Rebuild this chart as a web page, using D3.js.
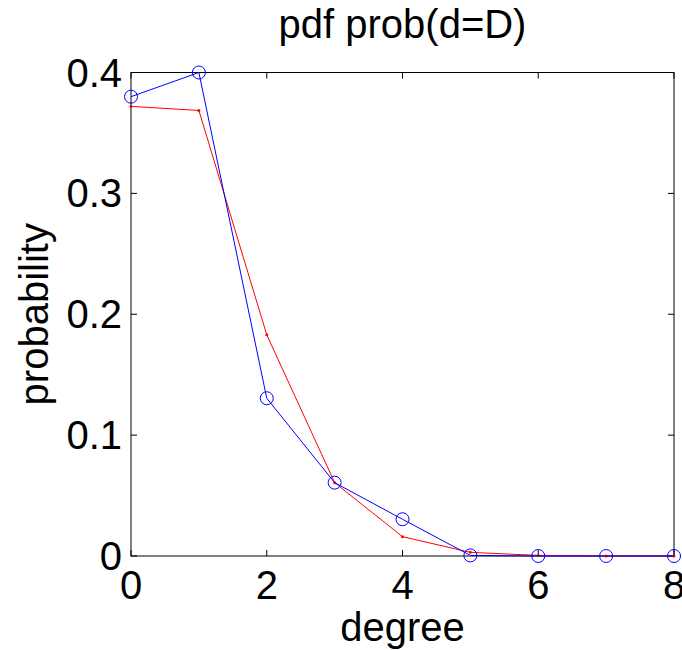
<!DOCTYPE html>
<html>
<head>
<meta charset="utf-8">
<script src="https://cdn.jsdelivr.net/npm/d3@7"></script>
<style>
body { margin: 0; background: #fff; }
text { font-family: "Liberation Sans", Arial, sans-serif; fill: #000; }
</style>
</head>
<body>
<svg id="chart" width="682" height="650"></svg>
<script>
// data
var degrees = [0, 1, 2, 3, 4, 5, 6, 7, 8];
var empirical = [0.380, 0.400, 0.1305, 0.0607, 0.0304, 0.0005, 0, 0, 0];   // blue, circles
var fitted = [0.372, 0.3686, 0.183, 0.0607, 0.016, 0.003, 0.0005, 0, 0];   // red, dots
var xTicks = [0, 2, 4, 6, 8];
var yTicks = [0, 0.1, 0.2, 0.3, 0.4];

var svg = d3.select('#chart');
var margin = {t: 72.5, r: 8, b: 94, l: 131};
var width = 682 - margin.l - margin.r;
var height = 650 - margin.t - margin.b;
var fontSize = '40px';

var x = d3.scaleLinear().domain([0, 8]).range([0, width]);
var y = d3.scaleLinear().domain([0, 0.4]).range([height, 0]);

var g = svg.append('g')
    .attr('transform', 'translate(' + [margin.l, margin.t] + ')');

// box
g.append('rect')
    .attr('width', width)
    .attr('height', height)
    .attr('fill', 'none')
    .attr('stroke', '#000')
    .attr('stroke-width', 1);

// inward ticks on all four sides
var tickLen = 6;
xTicks.forEach(function(t) {
    g.append('line').attr('x1', x(t)).attr('x2', x(t)).attr('y1', height).attr('y2', height - tickLen).attr('stroke', '#000');
    g.append('line').attr('x1', x(t)).attr('x2', x(t)).attr('y1', 0).attr('y2', tickLen).attr('stroke', '#000');
});
yTicks.forEach(function(t) {
    g.append('line').attr('x1', 0).attr('x2', tickLen).attr('y1', y(t)).attr('y2', y(t)).attr('stroke', '#000');
    g.append('line').attr('x1', width).attr('x2', width - tickLen).attr('y1', y(t)).attr('y2', y(t)).attr('stroke', '#000');
});

// tick labels
g.selectAll('.xlab')
    .data(xTicks)
    .enter().append('text')
    .attr('x', function(d) { return x(d); })
    .attr('y', height + 43)
    .attr('text-anchor', 'middle')
    .style('font-size', fontSize)
    .text(function(d) { return d; });
g.selectAll('.ylab')
    .data(yTicks)
    .enter().append('text')
    .attr('x', -9)
    .attr('y', function(d) { return y(d) + 14; })
    .attr('text-anchor', 'end')
    .style('font-size', fontSize)
    .text(function(d) { return d === 0 ? '0' : d3.format('.1f')(d); });

// titles
svg.append('text')
    .attr('x', margin.l + width / 2)
    .attr('y', 38)
    .attr('text-anchor', 'middle')
    .style('font-size', fontSize)
    .text('pdf prob(d=D)');
svg.append('text')
    .attr('x', margin.l + width / 2)
    .attr('y', 641)
    .attr('text-anchor', 'middle')
    .style('font-size', fontSize)
    .text('degree');
svg.append('text')
    .attr('transform', 'translate(' + [48, margin.t + height / 2] + ') rotate(-90)')
    .attr('text-anchor', 'middle')
    .style('font-size', fontSize)
    .text('probability');

var line = d3.line()
    .x(function(d, i) { return x(degrees[i]); })
    .y(function(d) { return y(d); });

// red series
g.append('path')
    .datum(fitted)
    .attr('d', line)
    .attr('fill', 'none')
    .attr('stroke', '#ff0000')
    .attr('stroke-width', 1);
g.selectAll('.rdot')
    .data(fitted)
    .enter().append('circle')
    .attr('cx', function(d, i) { return x(degrees[i]); })
    .attr('cy', function(d) { return y(d); })
    .attr('r', 1.5)
    .attr('fill', '#ff0000');

// blue series
g.append('path')
    .datum(empirical)
    .attr('d', line)
    .attr('fill', 'none')
    .attr('stroke', '#0000ff')
    .attr('stroke-width', 1);
g.selectAll('.bdot')
    .data(empirical)
    .enter().append('circle')
    .attr('cx', function(d, i) { return x(degrees[i]); })
    .attr('cy', function(d) { return y(d); })
    .attr('r', 6.5)
    .attr('fill', 'none')
    .attr('stroke', '#0000ff')
    .attr('stroke-width', 1);
</script>
</body>
</html>
